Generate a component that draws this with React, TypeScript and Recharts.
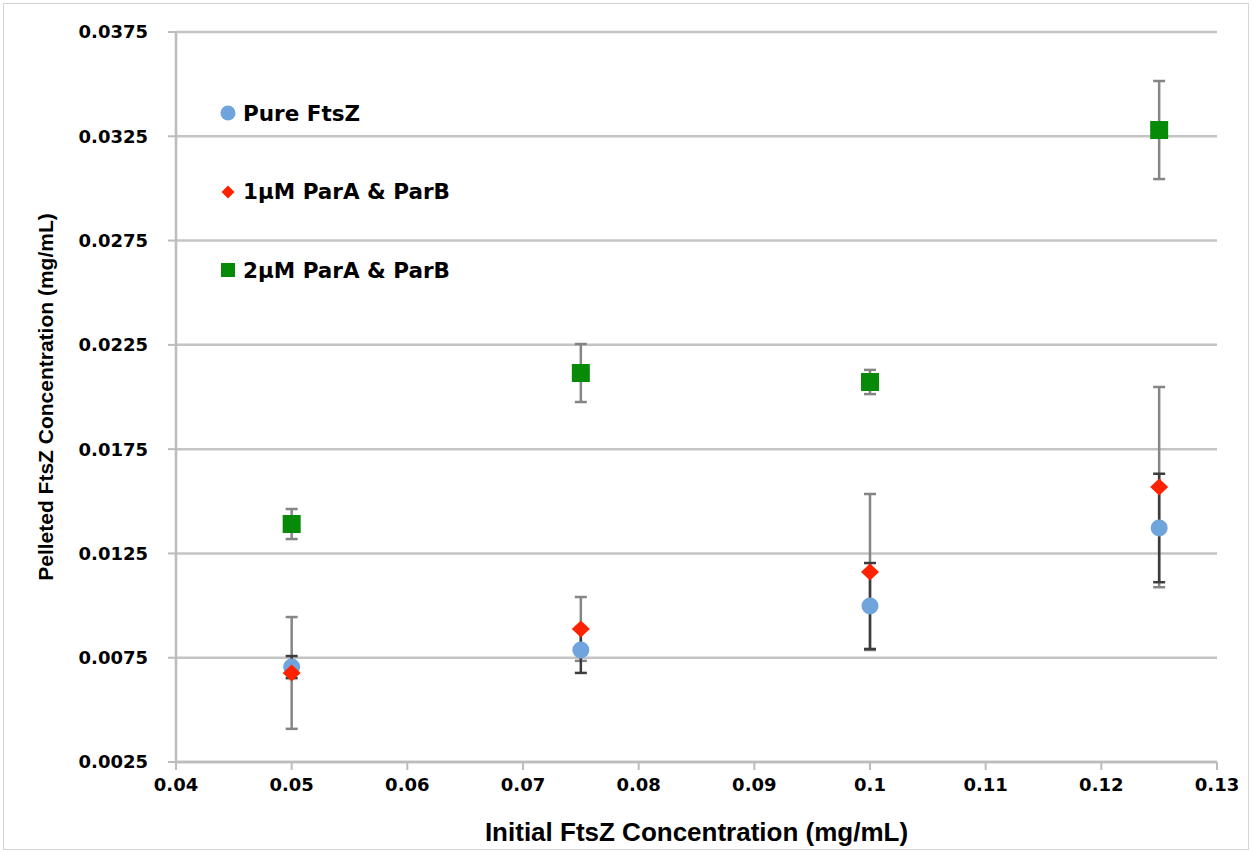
import React from 'react';
import { ScatterChart, Scatter, XAxis, YAxis, CartesianGrid, ErrorBar, Legend, Label } from 'recharts';

const xValues = [0.05, 0.075, 0.1, 0.125];
const pureFtsZ = [0.00705, 0.00787, 0.00998, 0.01372];
const pureFtsZErr = [0.00053, 0.0011, 0.00206, 0.0026];
const oneMicro = [0.00677, 0.00888, 0.01161, 0.01568];
const oneMicroErr = [0.00268, 0.00153, 0.00374, 0.0048];
const twoMicro = [0.01391, 0.02115, 0.02072, 0.0328];
const twoMicroErr = [0.00072, 0.00139, 0.00058, 0.00235];

const xTicks = [0.04, 0.05, 0.06, 0.07, 0.08, 0.09, 0.1, 0.11, 0.12, 0.13];
const yTicks = [0.0025, 0.0075, 0.0125, 0.0175, 0.0225, 0.0275, 0.0325, 0.0375];

const seriesNames = ['Pure FtsZ', '1\u00b5M ParA & ParB', '2\u00b5M ParA & ParB'];
const seriesColors = ['#6fa5dc', '#ff2200', '#078a07'];

const build = (vals: number[], errs: number[]) =>
  xValues.map((x, i) => ({ x, y: vals[i], err: errs[i] }));

const pureData = build(pureFtsZ, pureFtsZErr);
const oneData = build(oneMicro, oneMicroErr);
const twoData = build(twoMicro, twoMicroErr);

const tickFont = { fontFamily: 'DejaVu Sans', fontWeight: 700, fontSize: 18, fill: '#000' };
const titleFont = "'Liberation Sans Narrow', 'Liberation Sans', sans-serif";

const Empty = () => <g />;

const CircleShape = (p: any) => <circle cx={p.cx} cy={p.cy} r={8.5} fill={seriesColors[0]} />;
const DiamondShape = (p: any) => (
  <path d={`M${p.cx},${p.cy - 8.5}L${p.cx + 9},${p.cy}L${p.cx},${p.cy + 8.5}L${p.cx - 9},${p.cy}Z`} fill={seriesColors[1]} />
);
const SquareShape = (p: any) => <rect x={p.cx - 9} y={p.cy - 9} width={18} height={18} fill={seriesColors[2]} />;

const legendMarker = (i: number) => {
  if (i === 0) return <circle cx={9} cy={9} r={7.5} fill={seriesColors[0]} />;
  if (i === 1) return <path d="M9,2.5L15.5,9L9,15.5L2.5,9Z" fill={seriesColors[1]} />;
  return <rect x={2} y={2} width={14} height={14} fill={seriesColors[2]} />;
};

const LegendContent = () => (
  <div>
    {seriesNames.map((name, i) => (
      <div key={name} style={{ display: 'flex', alignItems: 'center', height: 78.5 }}>
        <svg width={18} height={18} style={{ marginRight: 6 }}>{legendMarker(i)}</svg>
        <span style={{ fontFamily: 'DejaVu Sans', fontWeight: 700, fontSize: 21.5, color: '#000' }}>{name}</span>
      </div>
    ))}
  </div>
);

const YTitle = (props: any) => {
  const vb = props.viewBox || { x: 0, y: 0, height: 0 };
  const cx = 45;
  const cy = vb.y + vb.height / 2;
  return (
    <text x={cx} y={cy} transform={`rotate(-90, ${cx}, ${cy})`} textAnchor="middle" dominantBaseline="central"
      style={{ fontFamily: titleFont, fontWeight: 700, fontSize: 21, fill: '#000' }}>
      Pelleted FtsZ Concentration (mg/mL)
    </text>
  );
};

export default function App() {
  return (
    <div style={{ position: 'absolute', left: 0, top: 0, width: 1252, height: 853, background: '#fff' }}>
      <div style={{ position: 'absolute', left: 3, top: 3, width: 1244, height: 845, border: '1px solid #d4d4d4' }} />
      <ScatterChart width={1252} height={853} margin={{ top: 32, right: 35, bottom: 0, left: 0 }}>
        <CartesianGrid vertical={false} stroke="#c4c4c4" strokeWidth={2.5} />
        <XAxis
          type="number"
          dataKey="x"
          domain={[0.04, 0.13]}
          ticks={xTicks}
          tickFormatter={(v: number) => String(v)}
          height={91}
          axisLine={{ stroke: '#bcbcbc', strokeWidth: 2.5 }}
          tickLine={{ stroke: '#bcbcbc', strokeWidth: 2 }}
          tickSize={8}
          tickMargin={8}
          tick={tickFont}
          allowDataOverflow
        >
          <Label value="Initial FtsZ Concentration (mg/mL)" position="insideBottom" offset={12}
            style={{ fontFamily: titleFont, fontWeight: 700, fontSize: 26, fill: '#000' }} />
        </XAxis>
        <YAxis
          type="number"
          dataKey="y"
          domain={[0.0025, 0.0375]}
          ticks={yTicks}
          tickFormatter={(v: number) => v.toFixed(4)}
          width={176}
          axisLine={{ stroke: '#bcbcbc', strokeWidth: 2.5 }}
          tickLine={{ stroke: '#bcbcbc', strokeWidth: 2 }}
          tickSize={8}
          tickMargin={20}
          tick={tickFont}
          allowDataOverflow
        >
          <Label content={<YTitle />} />
        </YAxis>
        <Legend
          layout="vertical"
          verticalAlign="middle"
          align="center"
          content={<LegendContent />}
          wrapperStyle={{ left: 219, top: 74, width: 320, height: 240 }}
        />
        <Scatter name="err2" data={twoData} shape={<Empty />} isAnimationActive={false} legendType="none">
          <ErrorBar dataKey="err" direction="y" width={6} stroke="#858585" strokeWidth={2.5} />
        </Scatter>
        <Scatter name="err1" data={oneData} shape={<Empty />} isAnimationActive={false} legendType="none">
          <ErrorBar dataKey="err" direction="y" width={6} stroke="#858585" strokeWidth={2.5} />
        </Scatter>
        <Scatter name="err0" data={pureData} shape={<Empty />} isAnimationActive={false} legendType="none">
          <ErrorBar dataKey="err" direction="y" width={6} stroke="#3c3c3c" strokeWidth={2.5} />
        </Scatter>
        <Scatter name={seriesNames[0]} data={pureData} shape={<CircleShape />} isAnimationActive={false} />
        <Scatter name={seriesNames[1]} data={oneData} shape={<DiamondShape />} isAnimationActive={false} />
        <Scatter name={seriesNames[2]} data={twoData} shape={<SquareShape />} isAnimationActive={false} />
      </ScatterChart>
    </div>
  );
}
